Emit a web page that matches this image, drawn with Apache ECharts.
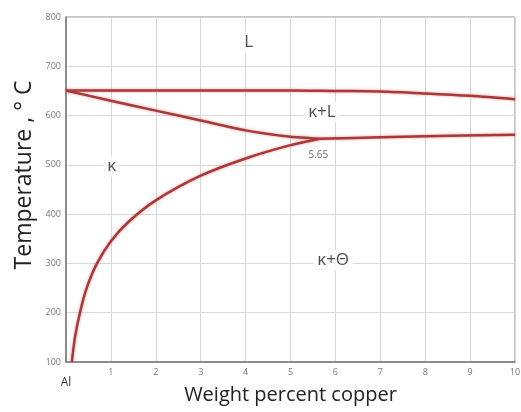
<!DOCTYPE html>
<html>
<head>
<meta charset="utf-8">
<script src="https://cdn.jsdelivr.net/npm/echarts@6/dist/echarts.min.js"></script>
<style>
  html, body { margin: 0; padding: 0; background: #fff; }
  #chart { width: 521px; height: 412px; }
</style>
</head>
<body>
<div id="chart"></div>
<script>
// phase boundaries, [wt% Cu, temperature]
var liquidus = [[0, 651], [3, 651], [5, 651], [6, 650], [7, 649], [8, 645], [9, 640], [10, 633]]
var solidus = [[0, 651], [1, 630], [2, 610], [3, 590], [4, 570], [5, 557], [5.65, 553]]
var eutectic = [[5.65, 553], [7, 556], [8, 558], [10, 561]]
var solvus = [[0.13, 100], [0.2, 150], [0.31, 200], [0.46, 250], [0.69, 300], [1, 345], [1.4, 385], [2, 428], [3, 478], [4, 513], [5, 540], [5.65, 553]]
// region labels
var regionLabels = [
  { name: 'L', value: [4.07, 749] },
  { name: 'κ+L', value: [5.7, 607] },
  { name: 'κ', value: [1.02, 497] },
  { name: 'κ+Θ', value: [5.95, 306] }
]
var eutecticLabel = [{ name: '5.65', value: [5.62, 519] }]

var chart = echarts.init(document.getElementById('chart'))

var lineStyle = {
  color: '#a93838',
  width: 2.5,
  shadowBlur: 3,
  shadowColor: 'rgba(210,110,110,0.7)'
}
function boundary(data, smooth) {
  return {
    type: 'line',
    data: data,
    smooth: smooth,
    symbol: 'none',
    lineStyle: lineStyle,
    z: 3
  }
}

chart.setOption({
  animation: false,
  grid: {
    left: 66,
    right: 6,
    top: 17,
    bottom: 50,
    outerBoundsMode: 'none',
    containLabel: false,
    show: true,
    borderColor: '#888',
    borderWidth: 1
  },
  xAxis: {
    type: 'value',
    min: 0,
    max: 10,
    interval: 1,
    name: 'Weight percent copper',
    nameLocation: 'middle',
    nameGap: 23,
    nameMoveOverlap: false,
    nameTextStyle: { fontFamily: 'Open Sans', fontSize: 20, color: '#222' },
    axisLine: { lineStyle: { color: '#777', width: 1.5 } },
    axisTick: { show: false },
    splitLine: { lineStyle: { color: '#d8d8d8' } },
    axisLabel: {
      fontFamily: 'Open Sans',
      fontSize: 9,
      color: '#777',
      margin: 6,
      formatter: function (v) {
        return v === 0 ? '{al|Al}' : v
      },
      rich: {
        al: { fontFamily: 'Open Sans', fontSize: 12, color: '#333', padding: [9, 0, 0, 0] }
      }
    }
  },
  yAxis: {
    type: 'value',
    min: 100,
    max: 800,
    interval: 100,
    axisLine: { show: true, lineStyle: { color: '#777', width: 1.5 } },
    axisTick: { show: false },
    splitLine: { lineStyle: { color: '#d8d8d8' } },
    axisLabel: { fontFamily: 'Open Sans', fontSize: 9, color: '#777', margin: 5 }
  },
  graphic: [
    {
      type: 'text',
      x: 24,
      y: 175,
      rotation: Math.PI / 2,
      style: {
        text: 'Temperature , ° C',
        fontFamily: 'Open Sans',
        fontSize: 23,
        fill: '#222',
        align: 'center',
        verticalAlign: 'middle'
      }
    }
  ],
  series: [
    boundary(liquidus, 0.3),
    boundary(solidus, 0.2),
    boundary(eutectic, 0.3),
    boundary(solvus, 0.3),
    {
      type: 'scatter',
      data: regionLabels,
      symbolSize: 0,
      z: 4,
      label: {
        show: true,
        position: 'inside',
        formatter: '{b}',
        fontFamily: 'Open Sans',
        fontSize: 17,
        color: '#222',
        backgroundColor: '#fff',
        padding: [2, 4]
      }
    },
    {
      type: 'scatter',
      data: eutecticLabel,
      symbolSize: 0,
      z: 4,
      label: {
        show: true,
        position: 'inside',
        formatter: '{b}',
        fontFamily: 'Open Sans',
        fontSize: 10,
        color: '#444'
      }
    }
  ]
})
</script>
</body>
</html>
